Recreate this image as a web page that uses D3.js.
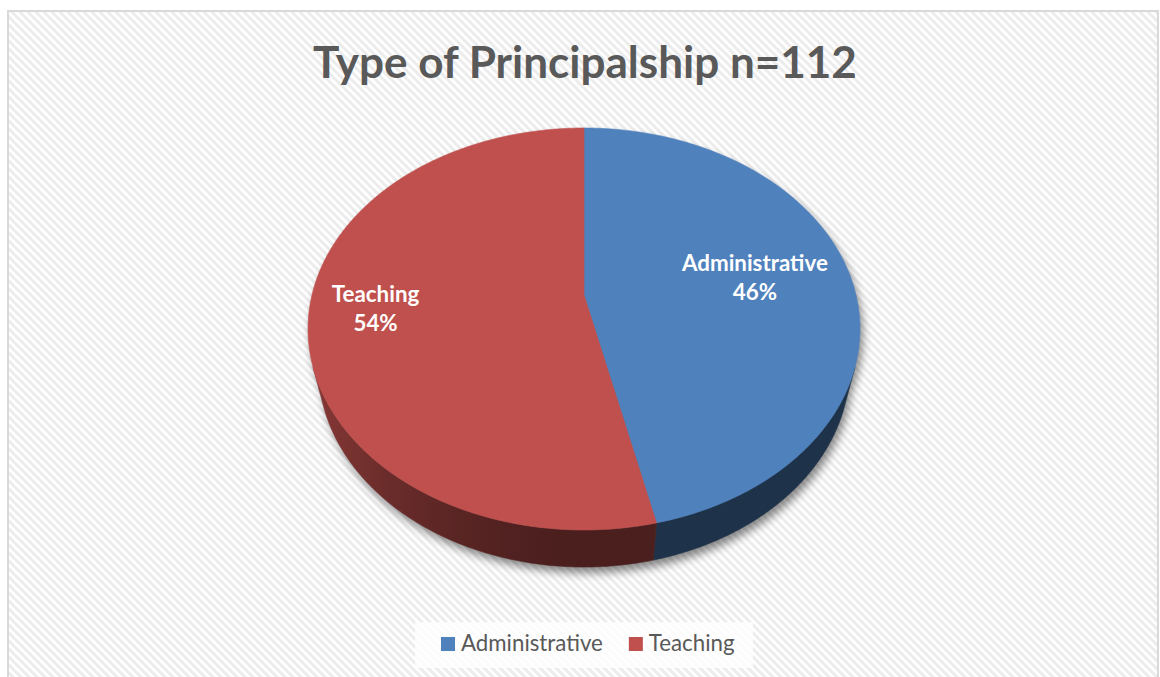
<!DOCTYPE html>
<html>
<head>
<meta charset="utf-8">
<script src="https://cdn.jsdelivr.net/npm/d3@7"></script>
<style>
  html, body { margin: 0; padding: 0; background: #ffffff; }
  svg { display: block; }
</style>
</head>
<body>
<svg id="chart" width="1160" height="677"></svg>
<script>
// ---- data (n = 112) ----
const categories = ["Administrative", "Teaching"];
const counts = [52, 60];
const sliceColors = ["#4F81BD", "#C0504D"];
const titleText = "Type of Principalship n=112";

// ---- layout ----
const FONT = "Lato, 'Open Sans', 'DejaVu Sans', sans-serif";
const TEXT_GREY = "#595959";
const view = {
  cx: 584, cy: 295,            // projected pie centre
  R: 272,                      // pie radius
  elev: 45.87 * Math.PI / 180, // camera elevation
  dist: 1120,                  // camera distance (perspective strength)
  depth: 59                    // pie thickness
};
const labelRadius = { Administrative: 0.64, Teaching: 0.76 };
const labelLift = 2;

const svg = d3.select("#chart");
const defs = svg.append("defs");

// diagonal stripe fill for the chart area
const pat = defs.append("pattern")
  .attr("id", "stripes")
  .attr("patternUnits", "userSpaceOnUse")
  .attr("width", 8).attr("height", 8);
pat.append("rect").attr("width", 8).attr("height", 8).attr("fill", "#ffffff");
pat.append("path")
  .attr("d", "M-2,-2 L10,10 M-2,6 L2,10 M6,-2 L10,2")
  .attr("stroke", "#ececec").attr("stroke-width", 3);

// soft drop shadow
const blur = defs.append("filter").attr("id", "shadowBlur")
  .attr("x", "-20%").attr("y", "-20%").attr("width", "140%").attr("height", "140%");
blur.append("feGaussianBlur").attr("stdDeviation", 4);

// chart frame
svg.append("rect")
  .attr("x", 8).attr("y", 11)
  .attr("width", 1150).attr("height", 700)
  .attr("fill", "url(#stripes)")
  .attr("stroke", "#d9d9d9").attr("stroke-width", 2);

// fit a text element's font size to a given width
function fitWidth(sel, target) {
  const node = sel.node();
  const fs = parseFloat(sel.attr("font-size"));
  const w = node.getComputedTextLength();
  sel.attr("font-size", fs * target / w);
  return fs * target / w;
}

// title
const title = svg.append("text")
  .attr("x", 585).attr("y", 78)
  .attr("text-anchor", "middle")
  .attr("font-family", FONT).attr("font-weight", 700)
  .attr("font-size", 40)
  .attr("fill", TEXT_GREY)
  .text(titleText);
fitWidth(title, 544);

// ---- perspective projection of the pie ----
const se = Math.sin(view.elev), ce = Math.cos(view.elev);
function project(theta, r, z) {
  const X = r * Math.sin(theta), Y = r * Math.cos(theta);
  const dep = view.dist + Y * ce - z * se;
  const s = view.dist / dep;
  return [view.cx + X * s, view.cy - (Y * se + z * ce) * s];
}
function arcPoints(a0, a1, r, z) {
  const n = Math.max(2, Math.ceil((a1 - a0) / (Math.PI / 360)));
  return d3.range(n + 1).map(i => project(a0 + (a1 - a0) * i / n, r, z));
}
const line = d3.line();

const total = d3.sum(counts);
const pieData = d3.pie().sort(null).value(d => d.value)(
  categories.map((c, i) => ({ name: c, value: counts[i], color: sliceColors[i] }))
);

// drop shadow of the whole solid
const shadowG = svg.append("g")
  .attr("transform", "translate(3,6)")
  .attr("filter", "url(#shadowBlur)")
  .attr("opacity", 0.45);
shadowG.append("path")
  .attr("d", line(arcPoints(0, 2 * Math.PI, view.R, -view.depth)) + "Z")
  .attr("fill", "#000");
shadowG.append("path")
  .attr("d", line(arcPoints(0, 2 * Math.PI, view.R, 0)) + "Z")
  .attr("fill", "#000");

// visible part of the outer wall
const thetaVis = Math.acos(Math.max(-1, -view.R / (view.dist * ce)));
const visLo = thetaVis, visHi = 2 * Math.PI - thetaVis;

// shading of the wall: light comes from the left
function shade(base, theta) {
  const c = d3.rgb(base);
  const lit = Math.max(0, -Math.sin(theta));
  const k = 0.385 + 0.36 * Math.pow(lit, 1.6);
  return d3.rgb(c.r * k, c.g * k, c.b * k).formatHex();
}

const wallG = svg.append("g");
pieData.forEach((d, i) => {
  const s = Math.max(d.startAngle, visLo), e = Math.min(d.endAngle, visHi);
  if (s >= e) return;
  const top = arcPoints(s, e, view.R, 0);
  const bot = arcPoints(s, e, view.R, -view.depth).reverse();
  const xs = top.map(p => p[0]);
  const x0 = d3.min(xs), x1 = d3.max(xs);
  const grad = defs.append("linearGradient")
    .attr("id", "wall" + i)
    .attr("gradientUnits", "userSpaceOnUse")
    .attr("x1", x0).attr("y1", 0).attr("x2", x1).attr("y2", 0);
  const steps = 24;
  d3.range(steps + 1).map(k => s + (e - s) * k / steps)
    .map(t => ({ t, x: project(t, view.R, 0)[0] }))
    .sort((a, b) => a.x - b.x)
    .forEach(p => grad.append("stop")
      .attr("offset", x1 > x0 ? (p.x - x0) / (x1 - x0) : 0)
      .attr("stop-color", shade(d.data.color, p.t)));
  wallG.append("path")
    .attr("d", line(top.concat(bot)) + "Z")
    .attr("fill", `url(#wall${i})`)
    .attr("stroke", `url(#wall${i})`).attr("stroke-width", 0.6);
});

// top faces
const topG = svg.append("g");
pieData.forEach(d => {
  const pts = [project(0, 0, 0)].concat(arcPoints(d.startAngle, d.endAngle, view.R, 0));
  topG.append("path")
    .attr("d", line(pts) + "Z")
    .attr("fill", d.data.color)
    .attr("stroke", d.data.color).attr("stroke-width", 0.6);
});

// data labels: category name and share of n
const labelG = svg.append("g");
const probe = labelG.append("text")
  .attr("font-family", FONT).attr("font-weight", 700).attr("font-size", 20)
  .text("Administrative");
const labelSize = fitWidth(probe, 146);
probe.remove();
pieData.forEach(d => {
  const mid = (d.startAngle + d.endAngle) / 2;
  const [x, y] = project(mid, view.R * labelRadius[d.data.name], 0);
  const t = labelG.append("text")
    .attr("x", x).attr("y", y - labelLift - 8)
    .attr("text-anchor", "middle")
    .attr("font-family", FONT).attr("font-weight", 700)
    .attr("font-size", labelSize)
    .attr("fill", "#ffffff");
  t.append("tspan").attr("x", x).attr("dy", 0).text(d.data.name);
  t.append("tspan").attr("x", x).attr("dy", 29)
    .text(Math.round(100 * d.data.value / total) + "%");
});

// legend
const legend = svg.append("g");
legend.append("rect")
  .attr("x", 415).attr("y", 622).attr("width", 338).attr("height", 46)
  .attr("fill", "#ffffff").attr("opacity", 0.8);
const probe2 = legend.append("text")
  .attr("font-family", FONT).attr("font-size", 20).text(categories[0]);
const legendSize = fitWidth(probe2, 142);
probe2.remove();
let lx = 441;
categories.forEach((c, i) => {
  legend.append("rect")
    .attr("x", lx).attr("y", 637).attr("width", 14).attr("height", 14)
    .attr("fill", sliceColors[i]);
  const t = legend.append("text")
    .attr("x", lx + 20).attr("y", 651)
    .attr("font-family", FONT).attr("font-size", legendSize)
    .attr("fill", TEXT_GREY)
    .text(c);
  lx += 20 + t.node().getComputedTextLength() + 26;
});
</script>
</body>
</html>
